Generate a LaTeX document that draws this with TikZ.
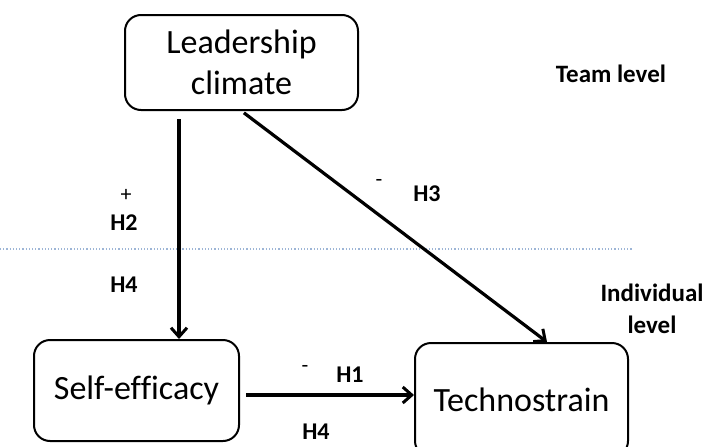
\documentclass[tikz,border=0pt]{standalone}
\usepackage{fontspec}
\setmainfont{Carlito}[Ligatures={TeX,NoCommon}]
\usetikzlibrary{arrows.meta}
\definecolor{levelline}{HTML}{9DB5D6}
\begin{document}
\begin{tikzpicture}[x=1pt,y=-1pt,
  box/.style={draw=black,line width=2pt,rounded corners=16pt,inner sep=0pt,
    align=center,font=\fontsize{34}{41}\selectfont},
  link/.style={line width=3.2pt,-{Straight Barb[length=9pt,width=16pt,line width=3pt]}},
  hyp/.style={font=\fontsize{24}{28}\selectfont\bfseries,inner sep=0pt},
  sign/.style={font=\fontsize{22}{26}\selectfont,inner sep=0pt},
  lvl/.style={font=\fontsize{25}{32}\selectfont\bfseries,inner sep=0pt,align=center}]
\useasboundingbox (0,0) rectangle (707,447);
\clip (0,0) rectangle (707,447);

% boundary between team and individual level
\draw[levelline,line width=1.2pt,dotted] (0,249) -- (632,249);

% constructs
\node[box,minimum width=233pt,minimum height=95pt] (lead) at (241.5,62.5)
  {Leadership\\climate};
\node[box,minimum width=205pt,minimum height=101pt] (self) at (136.5,390.5)
  {Self-efficacy};
\node[box,minimum width=213pt,minimum height=114pt] (tech) at (521.5,400)
  {Technostrain};

% hypothesised paths
\draw[link,shorten <=8pt] ([xshift=-62.5pt]lead.south) -- ([xshift=42.5pt]self.north);
\draw[link,shorten <=3pt] (lead.south) -- ([xshift=25.5pt]tech.north);
\draw[link,shorten <=6pt] ([yshift=-4.5pt]self.east) -- ([yshift=5pt]tech.west);

% path labels
\node[sign] (plus) at (126,195) {+};
\node[hyp] (h2) at (124,223) {H2};
\node[hyp] (h4a) at (124,285) {H4};
\node[sign] (m3) at (379,183) {-};
\node[hyp] (h3) at (427,194) {H3};
\node[sign] (m1) at (305,369) {-};
\node[hyp] (h1) at (350,375) {H1};
\node[hyp] (h4b) at (316,432) {H4};

% level labels
\node[lvl] (team) at (611,74) {Team level};
\node[lvl] (indiv) at (652,309) {Individual\\level};
\end{tikzpicture}
\end{document}
